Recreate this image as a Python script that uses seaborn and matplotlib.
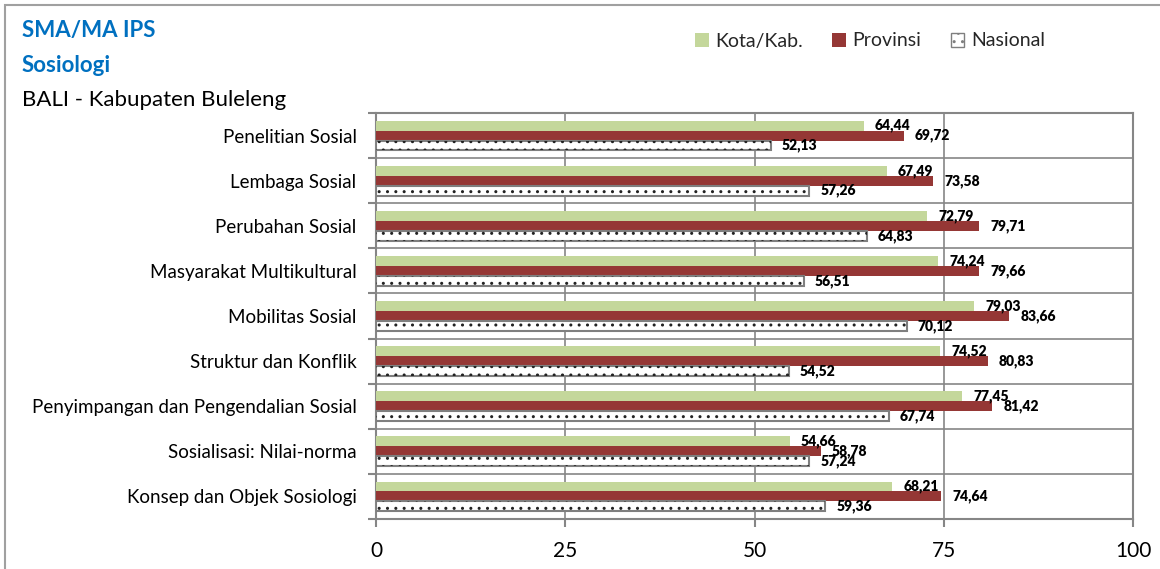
import numpy as np
import pandas as pd
import seaborn as sns
import matplotlib
matplotlib.use("Agg")
import matplotlib.pyplot as plt
from matplotlib.patches import Rectangle, Patch

categories = [
    "Penelitian Sosial",
    "Lembaga Sosial",
    "Perubahan Sosial",
    "Masyarakat Multikultural",
    "Mobilitas Sosial",
    "Struktur dan Konflik",
    "Penyimpangan dan Pengendalian Sosial",
    "Sosialisasi: Nilai-norma",
    "Konsep dan Objek Sosiologi",
]
kota_kab = [64.44, 67.49, 72.79, 74.24, 79.03, 74.52, 77.45, 54.66, 68.21]
provinsi = [69.72, 73.58, 79.71, 79.66, 83.66, 80.83, 81.42, 58.78, 74.64]
nasional = [52.13, 57.26, 64.83, 56.51, 70.12, 54.52, 67.74, 57.24, 59.36]
series_names = ["Kota/Kab.", "Provinsi", "Nasional"]
x_ticks = [0, 25, 50, 75, 100]

df = pd.DataFrame({
    "Materi": categories * 3,
    "Nilai": kota_kab + provinsi + nasional,
    "Tingkat": np.repeat(series_names, len(categories)),
})

sns.set_theme(style="white")
plt.rcParams["font.family"] = ["Lato", "DejaVu Sans"]

GREEN = "#C4D79B"
RED = "#953735"
GRID = "#868686"

fig = plt.figure(figsize=(11.6, 5.69), dpi=100)
ax = fig.add_axes([376 / 1160, 1 - 519 / 569, (1133 - 376) / 1160, (519 - 113) / 569])

palette = {"Kota/Kab.": GREEN, "Provinsi": RED, "Nasional": "white"}
sns.barplot(data=df, y="Materi", x="Nilai", hue="Tingkat", hue_order=series_names,
            order=categories, palette=palette, orient="h", width=0.66,
            saturation=1, legend=False, ax=ax, zorder=3)

# Style bars per series: seaborn adds containers in hue order
for name, cont in zip(series_names, ax.containers):
    for bar in cont:
        if name == "Nasional":
            bar.set_edgecolor("#7f7f7f")
            bar.set_linewidth(1.5)
            dots = Rectangle(bar.get_xy(), bar.get_width(), bar.get_height(),
                             fill=False, hatch="..", edgecolor="#222222",
                             linewidth=0, zorder=4)
            ax.add_patch(dots)
        else:
            bar.set_edgecolor("none")
            bar.set_linewidth(0)

# Value labels at bar ends, decimal comma
for cont in ax.containers:
    for bar in cont:
        w = bar.get_width()
        yc = bar.get_y() + bar.get_height() / 2
        ax.annotate(f"{w:.2f}".replace(".", ","), xy=(w, yc), xytext=(8, 0),
                    textcoords="offset points", va="center", ha="left",
                    fontsize=10, fontweight="heavy", color="black", zorder=5)

ax.set_xlim(0, 100)
ax.set_ylim(len(categories) - 0.5, -0.5)
ax.set_xticks(x_ticks)
ax.set_xticklabels([str(t) for t in x_ticks], fontsize=15)
ax.set_yticks(np.arange(len(categories)))
ax.set_yticklabels(categories, fontsize=13.5)
ax.set_yticks(np.arange(len(categories) + 1) - 0.5, minor=True)
ax.set_xlabel("")
ax.set_ylabel("")

ax.tick_params(axis="y", which="major", length=0, pad=14, colors="black")
ax.tick_params(axis="y", which="minor", length=6, width=1.5, color=GRID, left=True)
ax.tick_params(axis="x", which="major", length=6, width=1.5, color=GRID, bottom=True,
               pad=10, labelcolor="black")

ax.grid(False)
ax.grid(True, axis="y", which="minor", color=GRID, linewidth=1.2)
ax.grid(True, axis="x", which="major", color=GRID, linewidth=1.2)
ax.set_axisbelow(True)
for side in ["left", "right", "top", "bottom"]:
    ax.spines[side].set_visible(True)
    ax.spines[side].set_color(GRID)
    ax.spines[side].set_linewidth(1.5)

# Titles
fig.text(22 / 1160, 1 - 31 / 569, "SMA/MA IPS", fontsize=16, fontweight="bold",
         color="#0070C0", va="center", ha="left")
fig.text(22 / 1160, 1 - 65 / 569, "Sosiologi", fontsize=16, fontweight="bold",
         color="#0070C0", va="center", ha="left")
fig.text(22 / 1160, 1 - 100 / 569, "BALI - Kabupaten Buleleng", fontsize=16,
         color="black", va="center", ha="left")

# Legend
handles = [
    Patch(facecolor=GREEN, edgecolor="none"),
    Patch(facecolor=RED, edgecolor="none"),
    Patch(facecolor="white", edgecolor="#7f7f7f", hatch="..", linewidth=1),
]
fig.legend(handles, series_names, ncol=3, frameon=False, loc="center",
           bbox_to_anchor=(870 / 1160, 1 - 41 / 569), fontsize=14,
           handlelength=0.7, handleheight=0.7, handletextpad=0.35,
           columnspacing=1.5)

# Outer frame of the chart area
fig.add_artist(Rectangle((5 / 1160, -0.05), 1.2, 1 - 5 / 569 + 0.05,
                         transform=fig.transFigure, fill=False,
                         edgecolor="#a0a0a0", linewidth=1.5))

fig.savefig("out.png", dpi=100)
